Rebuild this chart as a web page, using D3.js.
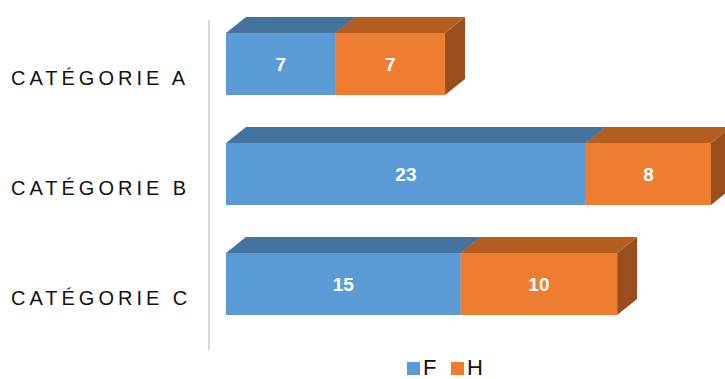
<!DOCTYPE html>
<html>
<head>
<meta charset="utf-8">
<script src="https://cdn.jsdelivr.net/npm/d3@7"></script>
<style>
  body { margin: 0; background: #fff; }
</style>
</head>
<body>
<div class="chart"></div>
<script>
var categories = ["CATÉGORIE A", "CATÉGORIE B", "CATÉGORIE C"];
var seriesNames = ["F", "H"];
var valuesF = [7, 23, 15];
var valuesH = [7, 8, 10];

var w = 725;
var h = 379;
var barH = 62;
var dx = 20, dy = -16;

var frontCol = { F: "#5b9bd5", H: "#ed7d31" };
var topCol = { F: "#44739e", H: "#b55e22" };
var sideCol = { F: "#3b6690", H: "#9a4d1d" };

var svg = d3.select(".chart")
            .append("svg")
            .attr("width", w)
            .attr("height", h);

var x = d3.scaleLinear().domain([0, 31]).range([226, 711]);
var y = d3.scalePoint().domain(categories).range([64, 284]);

// stacked segments
var rows = categories.map(function(c, i) {
  return [
    { cat: c, s: "F", x0: 0, x1: valuesF[i], v: valuesF[i] },
    { cat: c, s: "H", x0: valuesF[i], x1: valuesF[i] + valuesH[i], v: valuesH[i] }
  ];
});
var segs = [].concat.apply([], rows);

// axis line
svg.append("line")
   .attr("x1", 209).attr("x2", 209)
   .attr("y1", 20).attr("y2", 350)
   .attr("stroke", "#d9d9d9")
   .attr("stroke-width", 2);

function pts(a) { return a.map(function(p) { return p.join(","); }).join(" "); }

var g = svg.selectAll("g.seg")
           .data(segs)
           .enter()
           .append("g");

g.append("polygon")
 .attr("points", function(d) {
   var x1 = x(d.x1), yt = y(d.cat) - barH / 2, yb = yt + barH;
   return pts([[x1, yt], [x1 + dx, yt + dy], [x1 + dx, yb + dy], [x1, yb]]);
 })
 .attr("fill", function(d) { return sideCol[d.s]; });

g.append("polygon")
 .attr("points", function(d) {
   var x0 = x(d.x0), x1 = x(d.x1), yt = y(d.cat) - barH / 2;
   return pts([[x0, yt], [x1, yt], [x1 + dx, yt + dy], [x0 + dx, yt + dy]]);
 })
 .attr("fill", function(d) { return topCol[d.s]; });

g.append("rect")
 .attr("x", function(d) { return x(d.x0); })
 .attr("y", function(d) { return y(d.cat) - barH / 2; })
 .attr("width", function(d) { return x(d.x1) - x(d.x0); })
 .attr("height", barH)
 .attr("fill", function(d) { return frontCol[d.s]; });

g.append("text")
 .text(function(d) { return d.v; })
 .attr("x", function(d) { return (x(d.x0) + x(d.x1)) / 2; })
 .attr("y", function(d) { return y(d.cat) + 7; })
 .attr("text-anchor", "middle")
 .attr("font-family", "Liberation Sans, Arial, sans-serif")
 .attr("font-weight", "bold")
 .attr("font-size", "19px")
 .attr("fill", "#fff");

// category labels
svg.selectAll("text.cat")
   .data(categories)
   .enter()
   .append("text")
   .attr("class", "cat")
   .text(function(d) { return d; })
   .attr("x", 11)
   .attr("y", function(d) { return y(d) + 21; })
   .attr("font-family", "Liberation Sans, Arial, sans-serif")
   .attr("font-size", "20px")
   .attr("letter-spacing", "4px")
   .attr("fill", "#111");

// legend
var legX = [407, 451];
var leg = svg.selectAll("g.leg")
             .data(seriesNames)
             .enter()
             .append("g");
leg.append("rect")
   .attr("x", function(d, i) { return legX[i]; })
   .attr("y", 362)
   .attr("width", 13)
   .attr("height", 13)
   .attr("fill", function(d) { return frontCol[d]; });
leg.append("text")
   .text(function(d) { return d; })
   .attr("x", function(d, i) { return legX[i] + 16; })
   .attr("y", 375)
   .attr("font-family", "Liberation Sans, Arial, sans-serif")
   .attr("font-size", "22px")
   .attr("fill", "#111");
</script>
</body>
</html>
